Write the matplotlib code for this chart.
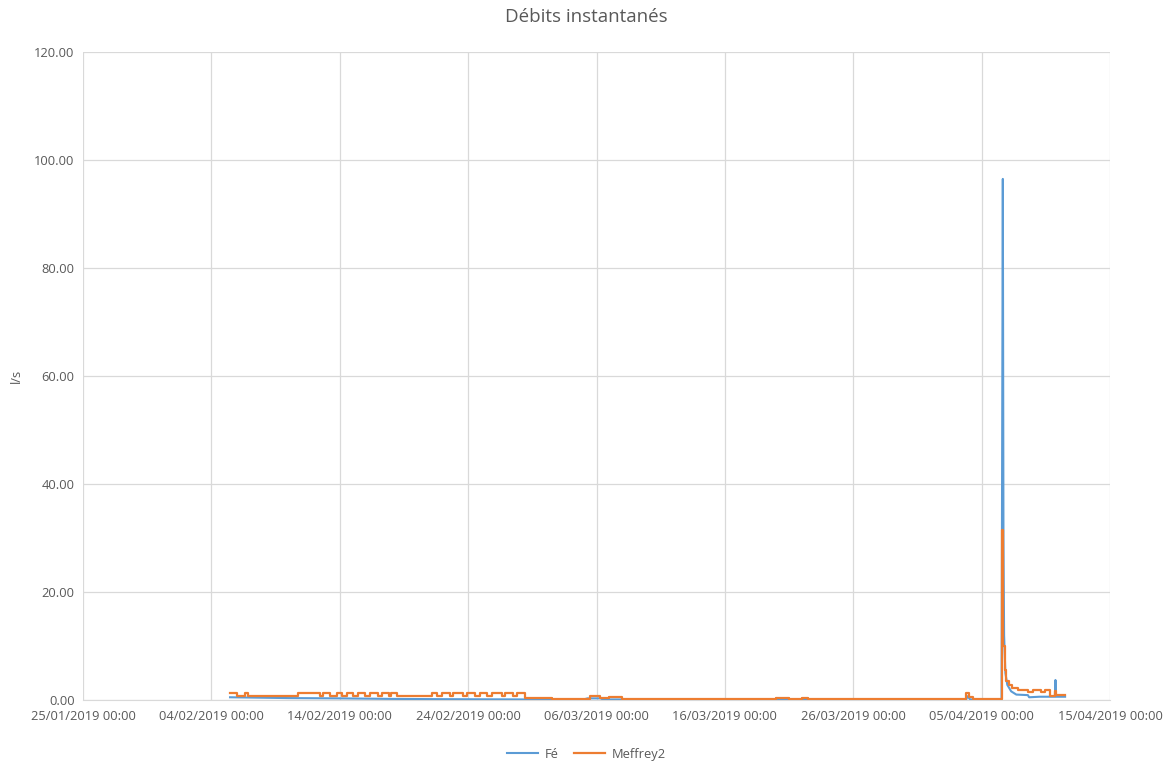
import matplotlib
matplotlib.use("Agg")
import matplotlib.pyplot as plt
import matplotlib.dates as mdates
import pandas as pd

# Measurement series, times expressed in days after the start date
start_date = "2019-01-25 00:00"

fe_days = [11.45, 13.0, 16.0, 20.0, 24.0, 28.0, 34.4, 39.0, 39.3, 40.3, 40.5,
           68.8, 68.9, 69.1, 71.55, 71.65, 71.7, 71.75, 71.85, 72.0, 72.3,
           72.7, 73.6, 73.7, 74.5, 75.7, 75.75, 75.8, 76.5]
fe_values = [0.5, 0.45, 0.35, 0.3, 0.2, 0.15, 0.1, 0.1, 0.3, 0.3, 0.1,
             0.1, 0.7, 0.1, 0.1, 96.5, 30.0, 12.0, 5.0, 2.8, 1.6,
             1.0, 0.9, 0.5, 0.6, 0.6, 3.7, 0.6, 0.6]

meffrey_days = [11.45, 12.0, 12.6, 12.85, 16.75, 18.45, 18.7, 19.24, 19.8, 20.2,
                20.6, 21.0, 21.4, 21.96, 22.35, 22.97, 23.3, 23.8, 24.0, 24.45,
                27.2, 27.6, 27.96, 28.6, 28.8, 29.6, 29.9, 30.5, 30.9, 31.5,
                31.85, 32.6, 32.9, 33.5, 33.8, 34.4, 36.5, 39.5, 40.3, 41.0,
                42.0, 54.0, 55.0, 56.0, 56.5, 59.0, 68.8, 69.0, 69.3, 71.55,
                71.7, 71.8, 71.9, 72.1, 72.4, 72.8, 73.6, 74.0, 74.6, 74.9,
                75.3, 75.7, 75.8, 76.5]
meffrey_values = [1.3, 0.8, 1.3, 0.8, 1.3, 0.8, 1.3, 0.8, 1.3, 0.8,
                  1.3, 0.8, 1.3, 0.8, 1.3, 0.8, 1.3, 0.8, 1.3, 0.8,
                  1.3, 0.8, 1.3, 0.8, 1.3, 0.8, 1.3, 0.8, 1.3, 0.8,
                  1.3, 0.8, 1.3, 0.8, 1.3, 0.35, 0.25, 0.7, 0.3, 0.5,
                  0.2, 0.35, 0.2, 0.4, 0.2, 0.1, 1.2, 0.5, 0.2, 31.5,
                  10.0, 5.5, 3.5, 2.8, 2.2, 1.9, 1.4, 1.9, 1.4, 1.9,
                  0.8, 1.6, 0.9, 0.9]

x_min = "2019-01-25"
x_max = "2019-04-15"
y_ticks = [0, 20, 40, 60, 80, 100, 120]

base = pd.Timestamp(start_date)
fe_t = [base + pd.Timedelta(days=d) for d in fe_days]
meffrey_t = [base + pd.Timedelta(days=d) for d in meffrey_days]

plt.rcParams['font.family'] = ['Open Sans', 'DejaVu Sans']
text_color = "#595959"
grid_color = "#d9d9d9"

fig = plt.figure(figsize=(11.73, 7.63), dpi=100)
ax = fig.add_axes([0.0708, 0.0826, 0.8755, 0.8492])

ax.plot(fe_t, fe_values, color="#5B9BD5", lw=1.5, label="Fé", zorder=3)
ax.plot(meffrey_t, meffrey_values, color="#ED7D31", lw=1.6, label="Meffrey2",
        drawstyle="steps-post", zorder=4)

ax.set_xlim(pd.Timestamp(x_min), pd.Timestamp(x_max))
ax.set_ylim(0, 120)
ax.set_yticks(y_ticks)
ax.yaxis.set_major_formatter(matplotlib.ticker.FuncFormatter(lambda v, p: f"{v:.2f}"))
ax.set_xticks(pd.date_range(x_min, x_max, freq="10D"))
ax.xaxis.set_major_formatter(mdates.DateFormatter("%d/%m/%Y %H:%M"))

ax.grid(True, color=grid_color, lw=0.9)
ax.set_axisbelow(True)
for s in ["top", "right", "left"]:
    ax.spines[s].set_visible(False)
ax.spines["bottom"].set_color(grid_color)
ax.tick_params(axis="both", length=0, labelsize=9.3, colors=text_color, pad=6)
ax.tick_params(axis="x", pad=7)

ax.set_ylabel("l/s", color=text_color, fontsize=9.3, labelpad=8)
fig.suptitle("Débits instantanés", color=text_color, fontsize=13.5, y=0.99)

fig.legend(loc="lower center", bbox_to_anchor=(0.5, -0.012), ncol=2, frameon=False,
           fontsize=9.3, labelcolor=text_color, handlelength=2.4, handletextpad=0.5,
           columnspacing=1.2)

fig.savefig("out.png", dpi=100)
